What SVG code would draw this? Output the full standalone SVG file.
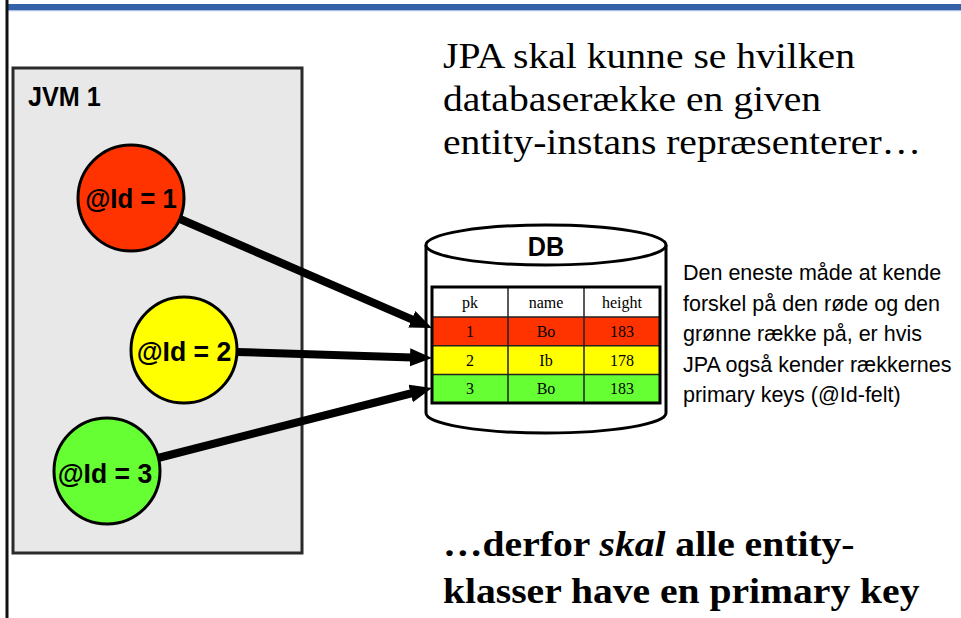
<svg xmlns="http://www.w3.org/2000/svg" width="961" height="618" viewBox="0 0 961 618">
<defs>
<style>
.sans{font-family:"Liberation Sans",Arial,sans-serif;}
.serif{font-family:"Liberation Serif","Times New Roman",serif;}
.lbl{font-family:"Liberation Sans",Arial,sans-serif;font-weight:bold;font-size:28px;text-anchor:middle;fill:#000;}
.cell{font-family:"Liberation Serif","Times New Roman",serif;font-size:16px;text-anchor:middle;fill:#000;}
.node{stroke:#000;stroke-width:3;}
.conn{stroke:#000;stroke-width:8;fill:none;marker-end:url(#ah);}
.grid{stroke:#222;stroke-width:1.5;}
</style>
<marker id="ah" markerUnits="userSpaceOnUse" markerWidth="24" markerHeight="20" refX="2" refY="9" orient="auto">
<path d="M0,0 L22,9 L0,18 z" fill="#000"/>
</marker>
</defs>
<rect width="961" height="618" fill="#fff"/>
<!-- header bar -->
<rect x="8" y="4" width="953" height="6" fill="#3561a8"/>
<rect x="8" y="10" width="953" height="1.2" fill="#a9bde0"/>
<line x1="7" y1="0" x2="7" y2="618" stroke="#111" stroke-width="3"/>

<!-- JVM box -->
<g id="jvm1">
<rect x="13" y="68" width="289" height="485" fill="#e8e8e8" stroke="#2a2a2a" stroke-width="3"/>
<text transform="translate(28,106) scale(0.9,1)" class="sans" font-weight="bold" font-size="28">JVM 1</text>
</g>

<g id="entity1">
<circle cx="131" cy="198" r="53" fill="#ff3300" class="node"/>
<text transform="translate(131,208) scale(0.92,1)" class="lbl">@Id = 1</text>
</g>
<g id="entity2">
<circle cx="184" cy="350" r="53" fill="#ffff00" class="node"/>
<text transform="translate(184,361) scale(0.95,1)" class="lbl">@Id = 2</text>
</g>
<g id="entity3">
<circle cx="107" cy="471" r="53" fill="#66ff33" class="node"/>
<text transform="translate(105,483) scale(0.95,1)" class="lbl">@Id = 3</text>
</g>

<!-- DB cylinder -->
<g id="db">
<path d="M426,245 L426,413 A120,20 0 0 0 666,413 L666,245" fill="#fff" stroke="#000" stroke-width="3"/>
<ellipse cx="546" cy="245" rx="120" ry="20" fill="#fff" stroke="#000" stroke-width="3"/>
<text transform="translate(546,256) scale(0.9,1)" class="lbl">DB</text>
<!-- table -->
<rect x="432" y="287" width="228" height="30" fill="#fff"/>
<rect x="432" y="317" width="228" height="28.7" fill="#ff3300"/>
<rect x="432" y="345.7" width="228" height="28.7" fill="#ffff00"/>
<rect x="432" y="374.4" width="228" height="28.6" fill="#66ff33"/>
<line x1="432" y1="317" x2="660" y2="317" class="grid"/>
<line x1="432" y1="345.7" x2="660" y2="345.7" class="grid"/>
<line x1="432" y1="374.4" x2="660" y2="374.4" class="grid"/>
<line x1="508" y1="287" x2="508" y2="403" class="grid"/>
<line x1="584" y1="287" x2="584" y2="403" class="grid"/>
<rect x="432" y="287" width="228" height="116" fill="none" stroke="#000" stroke-width="3"/>
<text x="470" y="308" class="cell">pk</text>
<text x="546" y="308" class="cell">name</text>
<text x="622" y="308" class="cell">height</text>
<text x="470" y="337" class="cell">1</text>
<text x="546" y="337" class="cell">Bo</text>
<text x="622" y="337" class="cell">183</text>
<text x="470" y="365.5" class="cell">2</text>
<text x="546" y="365.5" class="cell">Ib</text>
<text x="622" y="365.5" class="cell">178</text>
<text x="470" y="394" class="cell">3</text>
<text x="546" y="394" class="cell">Bo</text>
<text x="622" y="394" class="cell">183</text>
</g>

<!-- connectors -->
<g id="connectors">
<line x1="180" y1="219" x2="413.6" y2="320.1" class="conn"/>
<line x1="237" y1="352" x2="412" y2="357.4" class="conn"/>
<line x1="158" y1="458" x2="412.6" y2="393" class="conn"/>
</g>

<!-- title -->
<g id="title" class="serif" font-size="36" fill="#000">
<text transform="translate(443,68) scale(1.1,1)">JPA skal kunne se hvilken</text>
<text transform="translate(443,111) scale(1.1,1)">databaserække en given</text>
<text transform="translate(443,154) scale(1.1,1)">entity-instans repræsenterer…</text>
</g>

<!-- note -->
<g id="note" class="sans" font-size="21.5" fill="#000">
<text x="683" y="280">Den eneste måde at kende</text>
<text x="683" y="310.5">forskel på den røde og den</text>
<text x="683" y="341">grønne række på, er hvis</text>
<text x="683" y="371.5">JPA også kender rækkernes</text>
<text x="683" y="402">primary keys (@Id-felt)</text>
</g>

<!-- conclusion -->
<g id="conclusion" class="serif" font-size="36" font-weight="bold" fill="#000">
<text transform="translate(443,556) scale(1.1,1)">…derfor <tspan font-style="italic">skal</tspan> alle entity-</text>
<text transform="translate(443,603) scale(1.1,1)">klasser have en primary key</text>
</g>
</svg>
